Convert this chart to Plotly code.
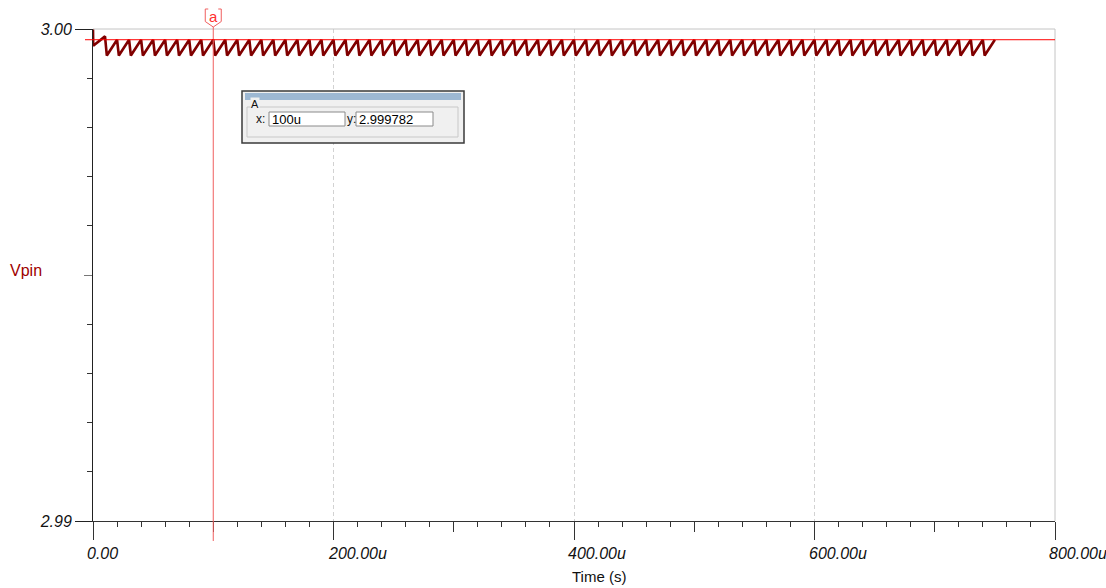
import plotly.graph_objects as go

# ---------------- data ----------------
# start of simulation (transient)
start_t_us = [0.0, 0.2]
start_v = [3.000000, 2.999660]

# sawtooth peaks (µs) and their voltages
peak_t_us = [10, 20, 30, 40, 50, 60, 70, 80, 90, 100,
             110, 120, 130, 140, 150, 160, 170, 180, 190, 200,
             210, 220, 230, 240, 250, 260, 270, 280, 290, 300,
             310, 320, 330, 340, 350, 360, 370, 380, 390, 400,
             410, 420, 430, 440, 450, 460, 470, 480, 490, 500,
             510, 520, 530, 540, 550, 560, 570, 580, 590, 600,
             610, 620, 630, 640, 650, 660, 670, 680, 690, 700,
             710, 720, 730, 740, 750]
peak_v = [2.999850] + [2.999782] * 74

# sawtooth troughs (µs) right after each peak
trough_t_us = [11.5, 21.5, 31.5, 41.5, 51.5, 61.5, 71.5, 81.5, 91.5, 101.5,
               111.5, 121.5, 131.5, 141.5, 151.5, 161.5, 171.5, 181.5, 191.5, 201.5,
               211.5, 221.5, 231.5, 241.5, 251.5, 261.5, 271.5, 281.5, 291.5, 301.5,
               311.5, 321.5, 331.5, 341.5, 351.5, 361.5, 371.5, 381.5, 391.5, 401.5,
               411.5, 421.5, 431.5, 441.5, 451.5, 461.5, 471.5, 481.5, 491.5, 501.5,
               511.5, 521.5, 531.5, 541.5, 551.5, 561.5, 571.5, 581.5, 591.5, 601.5,
               611.5, 621.5, 631.5, 641.5, 651.5, 661.5, 671.5, 681.5, 691.5, 701.5,
               711.5, 721.5, 731.5, 741.5]
trough_v = [2.999460] * 74

x_major_us = [0, 200, 400, 600, 800]
x_major_labels = ["0.00", "200.00u", "400.00u", "600.00u", "800.00u"]
x_mid_us = [100, 300, 500, 700]
y_major = [2.99, 3.00]
y_major_labels = ["2.99", "3.00"]
y_mid = [2.995]

cursor_x_us = 100
cursor_y = 2.999782
cursor_x_text = "100u"
cursor_y_text = "2.999782"

# ---------------- build series ----------------
t_us = list(start_t_us)
v = list(start_v)
for i in range(len(peak_t_us)):
    t_us.append(peak_t_us[i]); v.append(peak_v[i])
    if i < len(trough_t_us):
        t_us.append(trough_t_us[i]); v.append(trough_v[i])
t_s = [t * 1e-6 for t in t_us]

W, H = 1106, 588
L, R, T, B = 93, 1055, 29, 521


def px(x):
    return (x - L) / (R - L)


def py(y):
    return (B - y) / (B - T)


FONT = "Liberation Sans, Arial, sans-serif"

fig = go.Figure()
fig.add_trace(go.Scatter(x=t_s, y=v, mode="lines",
                         line=dict(color="#800000", width=2.6),
                         hoverinfo="skip", showlegend=False))
# dummy trace for the overlay axes carrying the mid ticks
fig.add_trace(go.Scatter(x=[None], y=[None], xaxis="x2", yaxis="y2",
                         showlegend=False, hoverinfo="skip"))

xr = [0, 800e-6]
yr = [2.99, 3.00]

fig.update_layout(
    width=W, height=H,
    margin=dict(l=L, r=W - R, t=T, b=H - B, pad=0),
    paper_bgcolor="white", plot_bgcolor="white",
    font=dict(family=FONT, color="#111"),
    xaxis=dict(range=xr, tickmode="array", tickvals=[t * 1e-6 for t in x_major_us],
               showticklabels=False, ticks="outside", ticklen=18, tickwidth=1,
               tickcolor="#333", showline=True, linecolor="#333", linewidth=1,
               showgrid=True, gridcolor="#D2D2D2", griddash="4px,3px", gridwidth=1,
               zeroline=False,
               minor=dict(ticks="outside", ticklen=5, tick0=0, dtick=20e-6,
                          tickcolor="#333", showgrid=False)),
    xaxis2=dict(range=xr, overlaying="x", anchor="y", side="bottom",
                tickmode="array", tickvals=[t * 1e-6 for t in x_mid_us],
                showticklabels=False, ticks="outside", ticklen=10, tickcolor="#333",
                showline=False, showgrid=False, zeroline=False),
    yaxis=dict(range=yr, tickmode="array", tickvals=y_major, ticktext=y_major_labels,
               ticks="outside", ticklen=17, tickcolor="#222", showline=True,
               linecolor="#222", linewidth=1, showgrid=False, zeroline=False,
               tickfont=dict(family=FONT, size=16, color="#111", style="italic"),
               minor=dict(ticks="outside", ticklen=5, tick0=2.99, dtick=0.001,
                          tickcolor="#333", showgrid=False)),
    yaxis2=dict(range=yr, overlaying="y", anchor="x", side="left",
                tickmode="array", tickvals=y_mid, showticklabels=False,
                ticks="outside", ticklen=8, tickcolor="#777",
                showline=False, showgrid=False, zeroline=False),
)

shapes = []
# gray top and right border
shapes.append(dict(type="line", xref="paper", yref="paper", x0=0, x1=1, y0=1, y1=1,
                   line=dict(color="#C4C4C4", width=1)))
shapes.append(dict(type="line", xref="paper", yref="paper", x0=1, x1=1, y0=0, y1=1,
                   line=dict(color="#C4C4C4", width=1)))
# cursor lines
shapes.append(dict(type="line", xref="x", yref="paper", x0=cursor_x_us * 1e-6,
                   x1=cursor_x_us * 1e-6, y0=py(541), y1=py(27),
                   line=dict(color="rgb(240,95,95)", width=1), layer="above"))
shapes.append(dict(type="line", xref="paper", yref="y", x0=px(85), x1=1,
                   y0=cursor_y, y1=cursor_y,
                   line=dict(color="#FF0000", width=1), layer="above"))
# cursor tag
shapes.append(dict(type="path", xref="x", yref="paper", xsizemode="pixel",
                   xanchor=cursor_x_us * 1e-6,
                   path=f"M -5,{py(9)} L -8,{py(9)} L -8,{py(21.5)} L 0,{py(27)} "
                        f"L 8,{py(21.5)} L 8,{py(9)} L 5,{py(9)}",
                   line=dict(color="rgb(240,95,95)", width=1)))

# cursor readout dialog
def rect(x0, y0, x1, y1, fill, line, lw=1):
    return dict(type="rect", xref="paper", yref="paper", x0=px(x0), x1=px(x1),
                y0=py(y1), y1=py(y0), fillcolor=fill,
                line=dict(color=line, width=lw), layer="above")

shapes.append(rect(242, 91, 464, 143, "#F0F0F0", "#3A3A3A", 1.5))
shapes.append(rect(245, 93, 461, 100, "#9DB8D3", "rgba(0,0,0,0)", 0))
shapes.append(rect(247, 107, 458, 137, "rgba(0,0,0,0)", "#C8C8C8", 1))
shapes.append(rect(269, 112, 345, 126, "white", "#8A8A8A", 1))
shapes.append(rect(356, 112, 433, 126, "white", "#8A8A8A", 1))

annotations = []
for tv, tl in zip(x_major_us, x_major_labels):
    annotations.append(dict(x=tv * 1e-6, xref="x", y=py(553), yref="paper",
                            text=tl, showarrow=False, xanchor="left", xshift=-8,
                            yanchor="middle",
                            font=dict(family=FONT, size=16, color="#111", style="italic")))
annotations.append(dict(x=px(599), y=py(576), xref="paper", yref="paper", text="Time (s)",
                        showarrow=False, xanchor="center", yanchor="middle",
                        font=dict(family=FONT, size=15, color="#111")))
annotations.append(dict(x=px(8), y=py(270), xref="paper", yref="paper", text="Vpin",
                        showarrow=False, xanchor="left", yanchor="middle",
                        font=dict(family=FONT, size=16, color="#A00000")))
annotations.append(dict(x=cursor_x_us * 1e-6, xref="x", y=py(16), yref="paper", text="a",
                        showarrow=False, xanchor="center", yanchor="middle",
                        font=dict(family=FONT, size=15, color="#FF3030")))
annotations.append(dict(x=px(250), y=py(104), xref="paper", yref="paper", text="A",
                        showarrow=False, xanchor="left", yanchor="middle", bgcolor="#F0F0F0",
                        borderpad=0, font=dict(family=FONT, size=11, color="#111")))
annotations.append(dict(x=px(254), y=py(119), xref="paper", yref="paper", text="x:",
                        showarrow=False, xanchor="left", yanchor="middle",
                        font=dict(family=FONT, size=12, color="#111")))
annotations.append(dict(x=px(345), y=py(119), xref="paper", yref="paper", text="y:",
                        showarrow=False, xanchor="left", yanchor="middle",
                        font=dict(family=FONT, size=12, color="#111")))
annotations.append(dict(x=px(270), y=py(119), xref="paper", yref="paper", text=cursor_x_text,
                        showarrow=False, xanchor="left", yanchor="middle",
                        font=dict(family=FONT, size=13, color="#000")))
annotations.append(dict(x=px(357), y=py(119), xref="paper", yref="paper", text=cursor_y_text,
                        showarrow=False, xanchor="left", yanchor="middle",
                        font=dict(family=FONT, size=13, color="#000")))

fig.update_layout(shapes=shapes, annotations=annotations)
fig.write_html("out.html", config={"displayModeBar": False},
               post_script="document.body.style.margin='0px';")
